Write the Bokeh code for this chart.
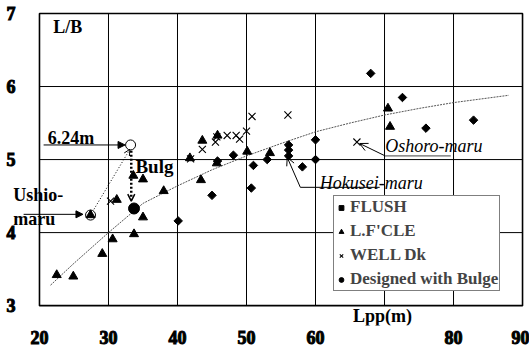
import numpy as np
from bokeh.plotting import figure
from bokeh.models import (FixedTicker, Label, Arrow, NormalHead, OpenHead,
                          Legend, LegendItem, Range1d)
from bokeh.embed import file_html
from bokeh.resources import INLINE

# ---------------- data ----------------
x_ticks = [20, 30, 40, 50, 60, 70, 80, 90]
y_ticks = [3, 4, 5, 6, 7]

flush_lpp = [40.1, 45.0, 45.8, 48.1, 50.7, 51.0, 53.0, 56.1, 56.1, 56.1, 58.1, 60.0, 60.0, 68.0, 72.6, 76.0, 82.9]
flush_lb = [4.16, 4.51, 4.98, 5.06, 4.61, 4.92, 5.00, 5.05, 5.13, 5.20, 4.90, 5.00, 5.27, 6.18, 5.85, 5.43, 5.54]

lfcle_lpp = [22.5, 24.9, 27.4, 29.1, 30.6, 31.2, 33.7, 33.6, 35.0, 35.0, 38.0, 41.8, 43.4, 43.6, 45.8, 45.7, 50.1, 53.4, 70.5, 70.8]
lfcle_lb = [3.42, 3.40, 4.24, 3.71, 3.91, 4.45, 3.98, 4.78, 4.73, 4.21, 4.57, 5.02, 4.72, 5.26, 5.33, 4.95, 5.11, 5.09, 5.70, 5.45]

well_lpp = [30.3, 41.9, 43.6, 45.5, 45.7, 47.2, 48.5, 49.0, 50.0, 50.8, 56.0, 66.0]
well_lb = [4.43, 5.01, 5.14, 5.24, 5.31, 5.33, 5.33, 5.28, 5.39, 5.59, 5.61, 5.24]

bulge_lpp = [33.7]
bulge_lb = [4.33]

# open circles: 6.24m case and Ushio-maru
mark_lpp = [33.2, 27.4]
mark_lb = [5.20, 4.24]

trend_lpp = [21.6, 25, 30, 35, 40, 45, 50, 55, 60, 65, 70, 75, 80, 88]
trend_lb = [3.28, 3.58, 4.00, 4.40, 4.64, 4.86, 5.05, 5.22, 5.38, 5.50, 5.61, 5.70, 5.78, 5.88]

SERIF = "Liberation Serif"

# visible data box is x_ticks[0]..x_ticks[-1], y_ticks[0]..y_ticks[-1];
# the frame is a little larger so that outside texts are not clipped
x_lo, x_hi = 16.09, 90.43
y_lo, y_hi = 2.728, 7.041

p = figure(width=529, height=346, x_range=Range1d(x_lo, x_hi), y_range=Range1d(y_lo, y_hi),
           output_backend="svg", toolbar_location=None,
           min_border_left=12, min_border_right=4, min_border_top=10, min_border_bottom=19)
p.background_fill_color = "white"
p.border_fill_color = "white"
p.outline_line_color = None
p.grid.visible = False

xa = p.xaxis[0]
ya = p.yaxis[0]
for ax in (xa, ya):
    ax.axis_line_color = None
    ax.major_tick_line_color = None
    ax.minor_tick_line_color = None
    ax.major_label_text_font = SERIF
    ax.major_label_text_font_size = "18px"
    ax.major_label_text_font_style = "bold"
    ax.major_label_text_color = "black"
    if "major_label_text_outline_color" in ax.properties():
        ax.major_label_text_outline_color = "black"

xa.ticker = FixedTicker(ticks=x_ticks)
ya.ticker = FixedTicker(ticks=y_ticks)
xa.major_label_overrides = {70: ""}
xa.major_label_standoff = -1
ya.major_label_standoff = -9

# grid lines and box (from tick values)
inner_x = x_ticks[1:-1]
inner_y = y_ticks[1:-1]
p.segment(x0=inner_x, y0=[y_ticks[0]] * len(inner_x), x1=inner_x, y1=[y_ticks[-1]] * len(inner_x),
          line_color="black", line_width=1)
p.segment(x0=[x_ticks[0]] * len(inner_y), y0=inner_y, x1=[x_ticks[-1]] * len(inner_y), y1=inner_y,
          line_color="black", line_width=1)
p.quad(left=[x_ticks[0]], right=[x_ticks[-1]], bottom=[y_ticks[0]], top=[y_ticks[-1]],
       fill_color=None, line_color="black", line_width=1.6)

# trend curve
p.line(trend_lpp, trend_lb, line_color="#555555", line_width=1, line_dash="2 1")

# markers
r_flush = p.scatter(flush_lpp, flush_lb, marker="square", angle=np.pi / 4, size=6,
                    fill_color="black", line_color="black")
r_lfcle = p.scatter(lfcle_lpp, lfcle_lb, marker="triangle", size=9,
                    fill_color="black", line_color="black")
r_well = p.scatter(well_lpp, well_lb, marker="x", size=10, line_color="black", line_width=1.1)
r_bulge = p.scatter(bulge_lpp, bulge_lb, marker="circle", size=11,
                    fill_color="black", line_color="black")
p.scatter(mark_lpp, mark_lb, marker="circle", size=10, fill_color=None,
          line_color="black", line_width=1)

# underlines / leader lines
p.line([70.1, 79.6], [5.05, 5.05], line_color="#444444", line_width=1)
p.line([69.3, 57.8], [4.62, 4.62], line_color="black", line_width=1)

# arrows
p.add_layout(Arrow(end=NormalHead(size=7, fill_color="black", line_color="black"),
                   x_start=20.6, y_start=5.20, x_end=32.4, y_end=5.20, line_width=1))
p.add_layout(Arrow(end=NormalHead(size=7, fill_color="black", line_color="black"),
                   x_start=17.7, y_start=4.25, x_end=26.3, y_end=4.25, line_width=1))
p.add_layout(Arrow(end=OpenHead(size=7, line_width=1.5), x_start=33.3, y_start=5.12,
                   x_end=33.3, y_end=4.43, line_width=2.5, line_dash="2 2"))
p.add_layout(Arrow(end=OpenHead(size=6, line_width=1), x_start=27.9, y_start=4.32,
                   x_end=33.1, y_end=5.14, line_width=1, line_dash="1 2"))
p.add_layout(Arrow(end=OpenHead(size=8, line_width=1), x_start=70.1, y_start=5.05,
                   x_end=66.4, y_end=5.22, line_width=1))
p.add_layout(Arrow(end=OpenHead(size=8, line_width=1), x_start=57.8, y_start=4.62,
                   x_end=55.9, y_end=5.03, line_width=1))

def lab(x, y, t, style="bold", align="left", size="18px"):
    p.add_layout(Label(x=x, y=y, text=t, text_font=SERIF, text_font_style=style,
                       text_font_size=size, text_align=align, text_baseline="middle",
                       text_color="black"))

lab(22.0, 6.82, "L/B")
lab(21.2, 5.30, "6.24m")
lab(33.9, 4.91, "Bulg", size="19px")
lab(16.2, 4.52, "Ushio-")
lab(16.2, 4.18, "maru")
lab(70.1, 5.18, "Oshoro-maru", style="italic")
lab(60.6, 4.68, "Hokusei-maru", style="italic")
lab(69.7, 2.86, "Lpp(m)", align="center")

legend = Legend(items=[LegendItem(label="FLUSH", renderers=[r_flush]),
                       LegendItem(label="L.F'CLE", renderers=[r_lfcle]),
                       LegendItem(label="WELL Dk", renderers=[r_well]),
                       LegendItem(label="Designed with Bulge", renderers=[r_bulge])],
                location=(321, 34))
legend.label_text_font = SERIF
legend.label_text_font_style = "bold"
legend.label_text_font_size = "17px"
legend.label_height = 17
legend.glyph_height = 17
legend.glyph_width = 12
legend.label_standoff = 3
legend.spacing = 4
legend.padding = 1
legend.margin = 0
legend.border_line_color = "black"
legend.border_line_width = 1
legend.background_fill_alpha = 1
p.add_layout(legend)

open("out.html", "w").write(file_html(p, INLINE))
